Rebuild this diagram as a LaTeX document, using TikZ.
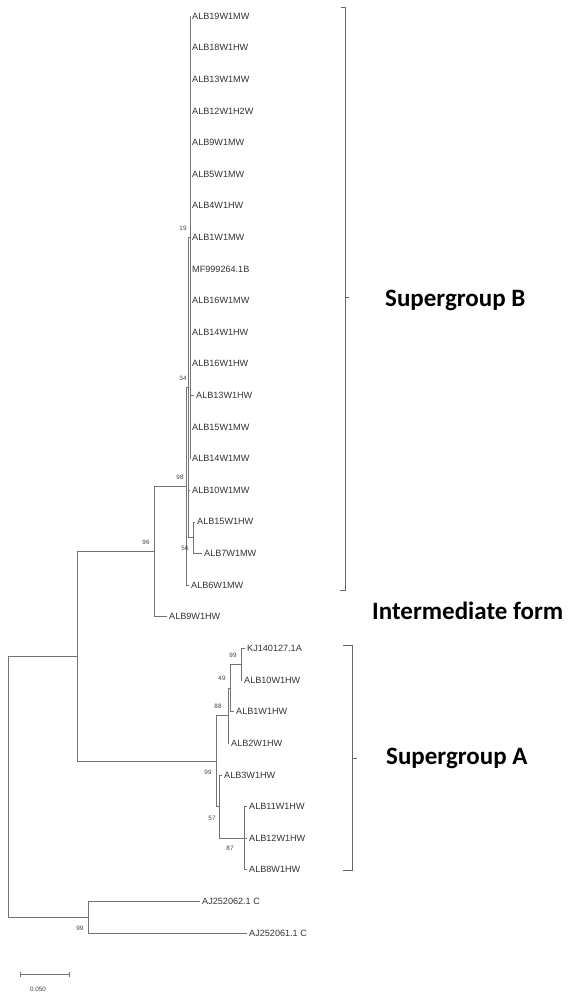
\documentclass[tikz,border=0pt]{standalone}
\usepackage{fontspec}
\setmainfont{Liberation Sans}
\newfontfamily\grpfont{Carlito}
\begin{document}
\begin{tikzpicture}[x=1pt,y=-1pt,
  br/.style={draw=black!55,line width=0.75pt},
  leaf/.style={anchor=west,inner xsep=2pt,inner ysep=0pt,text=black!80,font=\fontsize{9.1}{10}\selectfont},
  boot/.style={inner sep=0pt,text=black!75,font=\fontsize{6.3}{7}\selectfont},
  grp/.style={anchor=west,inner sep=0pt,text=black,font=\grpfont\bfseries\fontsize{25}{28}\selectfont},
  brk/.style={draw=black!60,line width=0.9pt}]
\useasboundingbox (0,0) rectangle (573,998);
\fill[white] (0,0) rectangle (573,998);
% internal nodes
\coordinate (n19) at (190,237.35);
\coordinate (n56) at (193,537.7);
\coordinate (n34) at (188,387.5);
\coordinate (n98) at (186,486.3);
\coordinate (n96) at (154,551.6);
\coordinate (n99a) at (241,664.2);
\coordinate (n49) at (230,687.9);
\coordinate (n88) at (228,715.6);
\coordinate (n87) at (244,838.1);
\coordinate (n57) at (219,806.5);
\coordinate (nA) at (216,761);
\coordinate (n77) at (77,656.3);
\coordinate (nC) at (88,917.2);
\coordinate (root) at (8,786.8);
% leaves
\node[leaf] (l0) at (190,16) {ALB19W1MW};
\node[leaf] (l1) at (190,47.6) {ALB18W1HW};
\node[leaf] (l2) at (190,79.2) {ALB13W1MW};
\node[leaf] (l3) at (190,110.9) {ALB12W1H2W};
\node[leaf] (l4) at (190,142.5) {ALB9W1MW};
\node[leaf] (l5) at (190,174.1) {ALB5W1MW};
\node[leaf] (l6) at (190,205.7) {ALB4W1HW};
\node[leaf] (l7) at (190,237.3) {ALB1W1MW};
\node[leaf] (l8) at (190,269) {MF999264.1B};
\node[leaf] (l9) at (190,300.6) {ALB16W1MW};
\node[leaf] (l10) at (190,332.2) {ALB14W1HW};
\node[leaf] (l11) at (190,363.8) {ALB16W1HW};
\node[leaf] (l12) at (194,395.4) {ALB13W1HW};
\node[leaf] (l13) at (190,427.1) {ALB15W1MW};
\node[leaf] (l14) at (190,458.7) {ALB14W1MW};
\node[leaf] (l15) at (190,490.3) {ALB10W1MW};
\node[leaf] (l16) at (195,521.9) {ALB15W1HW};
\node[leaf] (l17) at (202,553.5) {ALB7W1MW};
\node[leaf] (l18) at (189,585.2) {ALB6W1MW};
\node[leaf] (l19) at (167,616.8) {ALB9W1HW};
\node[leaf] (l20) at (245,648.4) {KJ140127.1A};
\node[leaf] (l21) at (242,680) {ALB10W1HW};
\node[leaf] (l22) at (234,711.6) {ALB1W1HW};
\node[leaf] (l23) at (229,743.3) {ALB2W1HW};
\node[leaf] (l24) at (222,774.9) {ALB3W1HW};
\node[leaf] (l25) at (247,806.5) {ALB11W1HW};
\node[leaf] (l26) at (247,838.1) {ALB12W1HW};
\node[leaf] (l27) at (247,869.7) {ALB8W1HW};
\node[leaf] (l28) at (200,901.4) {AJ252062.1 C};
\node[leaf] (l29) at (247,933) {AJ252061.1 C};
% branches
\foreach \i in {0,...,14} {\draw[br] (n19) |- (l\i.west);}
\draw[br] (n56) |- (l16.west);
\draw[br] (n56) |- (l17.west);
\draw[br] (n34) |- (n19);
\draw[br] (n34) |- (l15.west);
\draw[br] (n34) |- (n56);
\draw[br] (n98) |- (n34);
\draw[br] (n98) |- (l18.west);
\draw[br] (n96) |- (n98);
\draw[br] (n96) |- (l19.west);
\draw[br] (n99a) |- (l20.west);
\draw[br] (n99a) |- (l21.west);
\draw[br] (n49) |- (n99a);
\draw[br] (n49) |- (l22.west);
\draw[br] (n88) |- (n49);
\draw[br] (n88) |- (l23.west);
\draw[br] (n87) |- (l25.west);
\draw[br] (n87) |- (l26.west);
\draw[br] (n87) |- (l27.west);
\draw[br] (n57) |- (l24.west);
\draw[br] (n57) |- (n87);
\draw[br] (nA) |- (n88);
\draw[br] (nA) |- (n57);
\draw[br] (n77) |- (n96);
\draw[br] (n77) |- (nA);
\draw[br] (nC) |- (l28.west);
\draw[br] (nC) |- (l29.west);
\draw[br] (root) |- (n77);
\draw[br] (root) |- (nC);
% bootstrap values
\node[boot] (b19) at (183,228) {19};
\node[boot] (b34) at (183,378) {34};
\node[boot] (b98) at (180,477) {98};
\node[boot] (b56) at (185,548) {56};
\node[boot] (b96) at (146,542) {96};
\node[boot] (b99a) at (233,655) {99};
\node[boot] (b49) at (222,678) {49};
\node[boot] (b88) at (218,706) {88};
\node[boot] (bA) at (208,772) {99};
\node[boot] (b57) at (212,818) {57};
\node[boot] (b87) at (230,848) {87};
\node[boot] (bC) at (80,928) {99};
% brackets
\coordinate (bBt) at (345,7);
\coordinate (bBb) at (345,590);
\draw[brk] (341,7) -- (bBt) -- (bBb) -- (340,590);
\draw[brk] (345,297) -- (349,297);
\coordinate (bAt) at (352,645);
\coordinate (bAb) at (352,870);
\draw[brk] (343,645) -- (bAt) -- (bAb) -- (343,870);
\draw[brk] (352,758) -- (357,758);
\node[grp] (gB) at (385,300) {Supergroup B};
\node[grp] (gI) at (372,611) {Intermediate form};
\node[grp] (gA) at (386,758) {Supergroup A};
% scale bar
\coordinate (s1) at (20,974);
\coordinate (s2) at (69,974);
\draw[br] (s1) -- (s2);
\draw[br] ([yshift=-2.5pt]s1) -- ([yshift=2.5pt]s1);
\draw[br] ([yshift=-2.5pt]s2) -- ([yshift=2.5pt]s2);
\node[boot] (sl) at (38,989) {0.050};
\end{tikzpicture}
\end{document}
